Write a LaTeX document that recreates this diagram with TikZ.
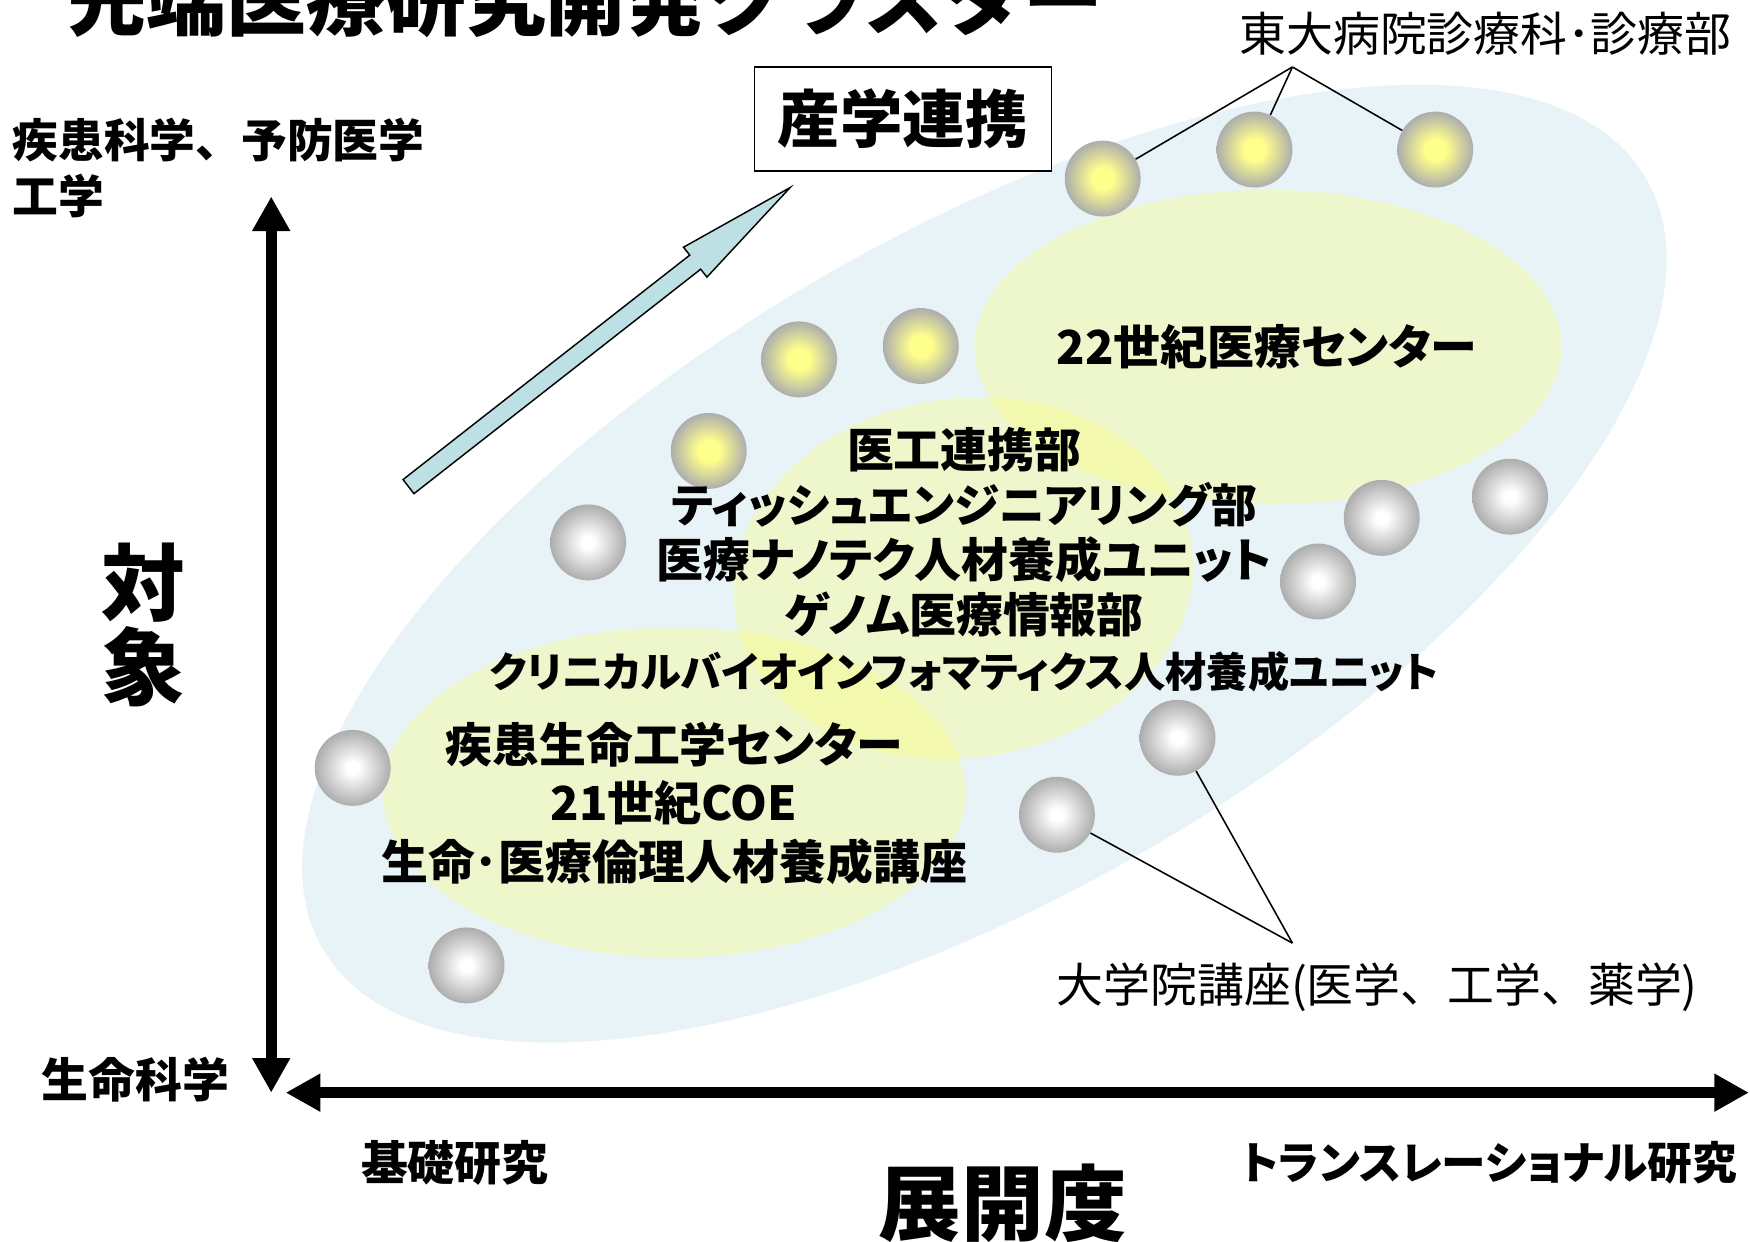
\documentclass[tikz,border=0pt]{standalone}
\usepackage{fontspec}
\setmainfont{Noto Sans CJK JP}
\newfontfamily\jpp{Noto Sans CJK JP}[RawFeature=+palt]
\usetikzlibrary{arrows.meta}
\definecolor{bgblue}{HTML}{E7F3F6}
\definecolor{ylw}{HTML}{FFFF6E}
\definecolor{arrowfill}{HTML}{BCE0E3}
\definecolor{ballcy}{HTML}{FFFF8C}
\definecolor{ballcw}{HTML}{FFFFFF}
\definecolor{balledge}{HTML}{ADADAD}
\pgfdeclareradialshading{ballY}{\pgfpointorigin}{color(0bp)=(ballcy); color(7bp)=(ballcy); color(25bp)=(balledge); color(50bp)=(balledge)}
\pgfdeclareradialshading{ballW}{\pgfpointorigin}{color(0bp)=(ballcw); color(4bp)=(ballcw); color(25bp)=(balledge); color(50bp)=(balledge)}
\begin{document}
\begin{tikzpicture}[x=1pt,y=-1pt,
  ballbase/.style={circle, minimum size=68pt, inner sep=0pt},
  bally/.style={ballbase, shade, shading=ballY},
  ballw/.style={ballbase, shade, shading=ballW},
  conn/.style={line width=1.4pt, black},
  yell/.style={fill=ylw, fill opacity=0.3},
  axisline/.style={line width=10pt, >={Triangle[length=31pt,width=32pt]}, <->},
  btxt/.style={inner sep=0pt, align=center, font=\bfseries\jpp\fontsize{42}{49.25}\selectfont},
  rtxt/.style={inner sep=0pt, font=\fontsize{42}{45}\selectfont},
  axtxt/.style={inner sep=0pt, font=\bfseries\fontsize{42}{46}\selectfont}
]
\clip (0,0) rectangle (1568,1112);
\fill[white] (0,0) rectangle (1568,1112);

% background ellipses
\fill[bgblue, rotate around={30.2:(882,505)}] (882,505) ellipse [x radius=686, y radius=295];
\fill[yell] (1136,311) ellipse [x radius=263, y radius=141];
\fill[yell, rotate around={8:(863,518)}] (863,518) ellipse [x radius=207, y radius=161];
\fill[yell] (604,710) ellipse [x radius=261, y radius=148];

% block arrow
\filldraw[fill=arrowfill, draw=black, line width=1.3pt, line join=miter]
  (370.9,442.3) -- (627.8,241.2) -- (633.4,248.3) -- (708,168) -- (612.4,221.5) -- (618.0,228.6) -- (361.1,429.7) -- cycle;

% balls
\node[bally] (y1) at (988,160) {};
\node[bally] (y2) at (1124,134) {};
\node[bally] (y3) at (1286,134) {};
\node[bally] (y4) at (716,322) {};
\node[bally] (y5) at (825,310) {};
\node[bally] (y6) at (635,404) {};
\node[ballw] (g1) at (527,486) {};
\node[ballw] (g2) at (316,688) {};
\node[ballw] (g3) at (418,865) {};
\node[ballw] (g4) at (1238,464) {};
\node[ballw] (g5) at (1353,445) {};
\node[ballw] (g6) at (1181,521) {};
\node[ballw] (g7) at (1055,661) {};
\node[ballw] (g8) at (947,730) {};

% title
\node[anchor=base west, inner sep=0pt, font=\bfseries\fontsize{71.5}{72}\selectfont] (title) at (60,26) {先端医療研究開発クラスター};

% labels with connectors
\node[rtxt] (toudai) at (1331,30) {東大病院診療科･診療部};
\coordinate (ta) at (1158,60);
\draw[conn] (ta) -- (y1);
\draw[conn] (ta) -- (y2);
\draw[conn] (ta) -- (y3);

\node[rtxt] (daigakuin) at (1234,885) {大学院講座(医学、工学、薬学)};
\coordinate (da) at (1158,845);
\draw[conn] (da) -- (g7);
\draw[conn] (da) -- (g8);

% industry box
\node[draw, line width=1.4pt, fill=white, minimum width=266pt, minimum height=93pt, inner sep=0pt,
  font=\bfseries\fontsize{56}{60}\selectfont] (sangaku) at (809,106.5) {産学連携};

% inner texts
\node[btxt] (c22) at (1135,311) {22世紀医療センター};
\node[btxt] (ikou) at (864,501.5) {医工連携部\\{\fontsize{41}{49.25}\selectfont ティッシュエンジニアリング部}\\医療ナノテク人材養成ユニット\\ゲノム医療情報部\\{\fontsize{37}{49.25}\selectfont クリニカルバイオインフォマティクス人材養成ユニット}};
\node[btxt, font=\bfseries\jpp\fontsize{42}{52.5}\selectfont] (shikkan) at (604,719.5) {疾患生命工学センター\\21世紀COE\\生命･医療倫理人材養成講座};

% axes
\coordinate (ytop) at (243,176);
\coordinate (ybot) at (243,979);
\coordinate (xl) at (256,979);
\coordinate (xr) at (1567,979);
\draw[axisline] (ybot) -- (ytop);
\draw[axisline] (xl) -- (xr);

% axis labels
\node[anchor=west, inner sep=0pt, align=left, font=\bfseries\fontsize{41}{51}\selectfont] (ytoplab) at (11,150.5) {疾患科学、予防医学\\工学};
\node[inner sep=0pt, align=center, font=\bfseries\fontsize{75}{76}\selectfont] (taisho) at (128,560) {対\\象};
\node[axtxt] (seimei) at (121.5,967) {生命科学};
\node[axtxt] (kiso) at (407.5,1042) {基礎研究};
\node[inner sep=0pt, font=\bfseries\fontsize{74}{76}\selectfont] (tenkai) at (898.5,1078) {展開度};
\node[axtxt, font=\bfseries\jpp\fontsize{40}{44}\selectfont] (trans) at (1334,1042) {トランスレーショナル研究};
\end{tikzpicture}
\end{document}
